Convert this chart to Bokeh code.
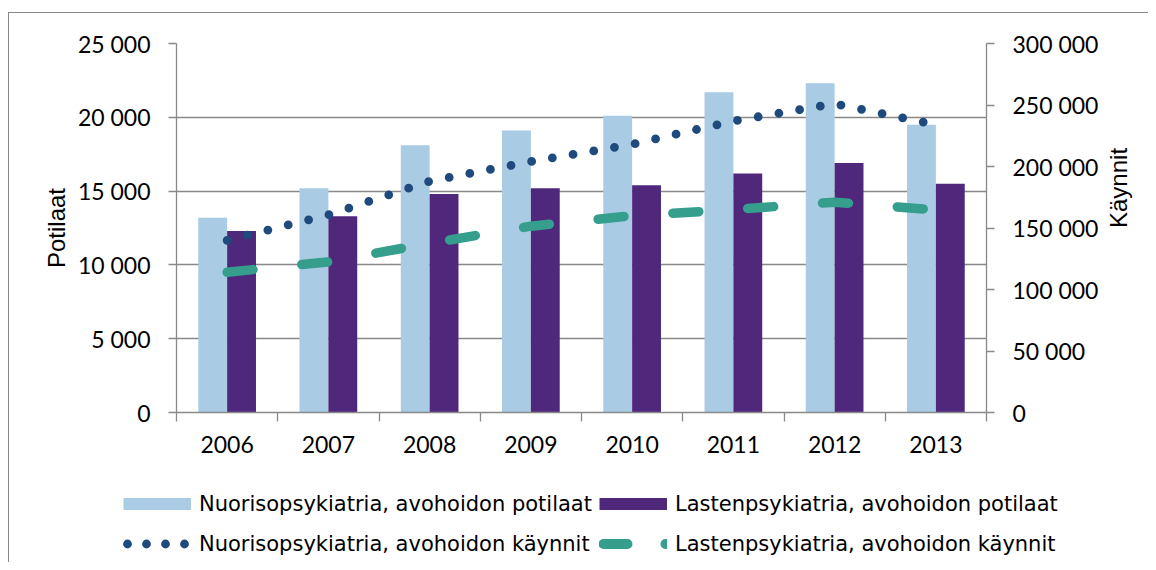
import math
from bokeh.plotting import figure
from bokeh.models import (Range1d, LinearAxis, FixedTicker, CustomJSTickFormatter, Grid,
                          Legend, LegendItem, ColumnDataSource)
from bokeh.transform import dodge
from bokeh.embed import file_html
from bokeh.resources import INLINE

# ---------------- data ----------------
years = ["2006", "2007", "2008", "2009", "2010", "2011", "2012", "2013"]
nuori_potilaat = [13200, 15200, 18100, 19100, 20100, 21700, 22300, 19500]
lasten_potilaat = [12300, 13300, 14800, 15200, 15400, 16200, 16900, 15500]
nuori_kaynnit = [140000, 160700, 188000, 204000, 218000, 237000, 251000, 234000]
lasten_kaynnit = [114000, 122500, 137500, 151500, 160000, 165000, 171000, 164700]

series_names = [
    "Nuorisopsykiatria, avohoidon potilaat",
    "Lastenpsykiatria, avohoidon potilaat",
    "Nuorisopsykiatria, avohoidon käynnit",
    "Lastenpsykiatria, avohoidon käynnit",
]
left_ticks = [0, 5000, 10000, 15000, 20000, 25000]
left_tick_labels = ["0", "5 000", "10 000", "15 000", "20 000", "25 000"]
right_ticks = [0, 50000, 100000, 150000, 200000, 250000, 300000]
right_tick_labels = ["0", "50 000", "100 000", "150 000", "200 000", "250 000", "300 000"]
left_title = "Potilaat"
right_title = "Käynnit"

# ---------------- style ----------------
C_LIGHT = "#A9CCE4"
C_PURPLE = "#4F287C"
C_NAVY = "#1F4A7E"
C_TEAL = "#359E8C"
C_GRID = "#898989"
TICK_FONT = "Lato"
TITLE_FONT = "Liberation Sans"
LEGEND_FONT = "DejaVu Sans"

src = ColumnDataSource(dict(year=years, np_=nuori_potilaat, lp=lasten_potilaat,
                            nk=nuori_kaynnit, lk=lasten_kaynnit))

p = figure(width=1148, height=470, x_range=years, y_range=Range1d(0, 25000),
           x_axis_location=None, y_axis_location=None,
           output_backend="svg", toolbar_location=None,
           min_border_left=176, min_border_right=160, min_border_top=43, min_border_bottom=58)
p.extra_y_ranges = {"right": Range1d(0, 300000)}
p.outline_line_color = None
p.background_fill_color = "white"
p.border_fill_color = None
# outer chart frame (top and left edges), shown through the transparent border area
p.styles = {
    "background-color": "white",
    "background-image": f"linear-gradient({C_GRID}, {C_GRID}), linear-gradient({C_GRID}, {C_GRID})",
    "background-size": "1px 100%, 100% 1px",
    "background-position": "8px 12px, 8px 12px",
    "background-repeat": "no-repeat",
}

# remove default grids, add own
p.center = [r for r in p.center if not isinstance(r, Grid)]
p.add_layout(Grid(dimension=1, ticker=FixedTicker(ticks=left_ticks),
                  grid_line_color=C_GRID, grid_line_width=1.3))

# bars
bw = 0.285
p.vbar(x=dodge("year", -bw / 2, range=p.x_range), top="np_", width=bw, source=src,
       fill_color=C_LIGHT, line_color=None)
p.vbar(x=dodge("year", bw / 2, range=p.x_range), top="lp", width=bw, source=src,
       fill_color=C_PURPLE, line_color=None)

# lines
p.line(x="year", y="nk", source=src, y_range_name="right", line_color=C_NAVY,
       line_width=8.8, line_dash="0 21", line_cap="round")
p.line(x="year", y="lk", source=src, y_range_name="right", line_color=C_TEAL,
       line_width=9.5, line_dash="26 49", line_cap="round")

# axes
def fmt(tick_values, tick_texts):
    return CustomJSTickFormatter(args=dict(tv=tick_values, tt=tick_texts),
                                 code="const i = tv.indexOf(tick); return i >= 0 ? tt[i] : '';")

def style_axis(ax):
    ax.axis_line_color = C_GRID
    ax.axis_line_width = 1.3
    ax.major_tick_line_color = C_GRID
    ax.major_tick_line_width = 1.3
    ax.major_tick_in = 0
    ax.major_tick_out = 8
    ax.minor_tick_line_color = None
    ax.major_label_text_font = TICK_FONT
    ax.major_label_text_font_size = "23px"
    ax.major_label_text_color = "black"
    ax.major_label_standoff = 18
    ax.axis_label_text_font = TITLE_FONT
    ax.axis_label_text_font_size = "24px"
    ax.axis_label_text_font_style = "normal"
    ax.axis_label_text_color = "black"

left = LinearAxis(ticker=FixedTicker(ticks=left_ticks), formatter=fmt(left_ticks, left_tick_labels),
                  axis_label=left_title)
style_axis(left)
left.axis_label_standoff = 5
p.add_layout(left, "left")

right = LinearAxis(y_range_name="right", ticker=FixedTicker(ticks=right_ticks),
                   formatter=fmt(right_ticks, right_tick_labels), axis_label=right_title)
style_axis(right)
right.major_label_standoff = 18
right.axis_label_standoff = 17
if "axis_label_orientation" in LinearAxis.properties():
    right.axis_label_orientation = math.pi / 2
p.add_layout(right, "right")

centers = [i + 0.5 for i in range(len(years))]
bounds = list(range(len(years) + 1))
bottom = LinearAxis(ticker=FixedTicker(ticks=centers, minor_ticks=bounds),
                    formatter=CustomJSTickFormatter(args=dict(yl=years),
                                                    code="return yl[Math.floor(tick)] || '';"))
style_axis(bottom)
bottom.major_tick_line_color = None
bottom.major_tick_out = 9
bottom.minor_tick_line_color = C_GRID
bottom.minor_tick_line_width = 1.3
bottom.minor_tick_in = 0
bottom.minor_tick_out = 9
bottom.major_label_standoff = 14
p.add_layout(bottom, "below")

# ---------------- legend figure (separate root, full-width frame) ----------------
lg = figure(width=1148, height=92, x_range=Range1d(0, 1), y_range=Range1d(0, 1),
            x_axis_location=None, y_axis_location=None,
            output_backend="svg", toolbar_location=None,
            min_border_left=0, min_border_right=0, min_border_top=0, min_border_bottom=0)
lg.center = [r for r in lg.center if not isinstance(r, Grid)]
lg.outline_line_color = None
lg.background_fill_color = None
lg.border_fill_color = None
lg.styles = {
    "background-color": "white",
    "background-image": f"linear-gradient({C_GRID}, {C_GRID})",
    "background-size": "1px 100%",
    "background-position": "8px 0px",
    "background-repeat": "no-repeat",
}

# proxy renderers (series data lies far outside this figure's 0..1 ranges, so only
# their legend symbols show)
r1 = lg.line(x=centers, y=nuori_potilaat, line_color=C_LIGHT, line_width=12, line_cap="butt")
r2 = lg.line(x=centers, y=lasten_potilaat, line_color=C_PURPLE, line_width=12, line_cap="butt")
r3 = lg.line(x=centers, y=nuori_kaynnit, line_color=C_NAVY, line_width=8.8, line_dash="0 19",
             line_dash_offset=15, line_cap="round")
r4 = lg.line(x=centers, y=lasten_kaynnit, line_color=C_TEAL, line_width=10, line_dash="24 38",
             line_dash_offset=58, line_cap="round")
legend = Legend(items=[LegendItem(label=series_names[0], renderers=[r1]),
                       LegendItem(label=series_names[1], renderers=[r2]),
                       LegendItem(label=series_names[2], renderers=[r3]),
                       LegendItem(label=series_names[3], renderers=[r4])],
                orientation="horizontal", ncols=2,
                location=(123, 2),
                glyph_width=68, glyph_height=33, label_height=33, label_standoff=8,
                spacing=7, padding=0, margin=0,
                border_line_color=None, background_fill_alpha=0,
                label_text_font=LEGEND_FONT, label_text_font_size="21px",
                label_text_color="black")
lg.add_layout(legend, "center")

open("out.html", "w").write(file_html([p, lg], INLINE))
